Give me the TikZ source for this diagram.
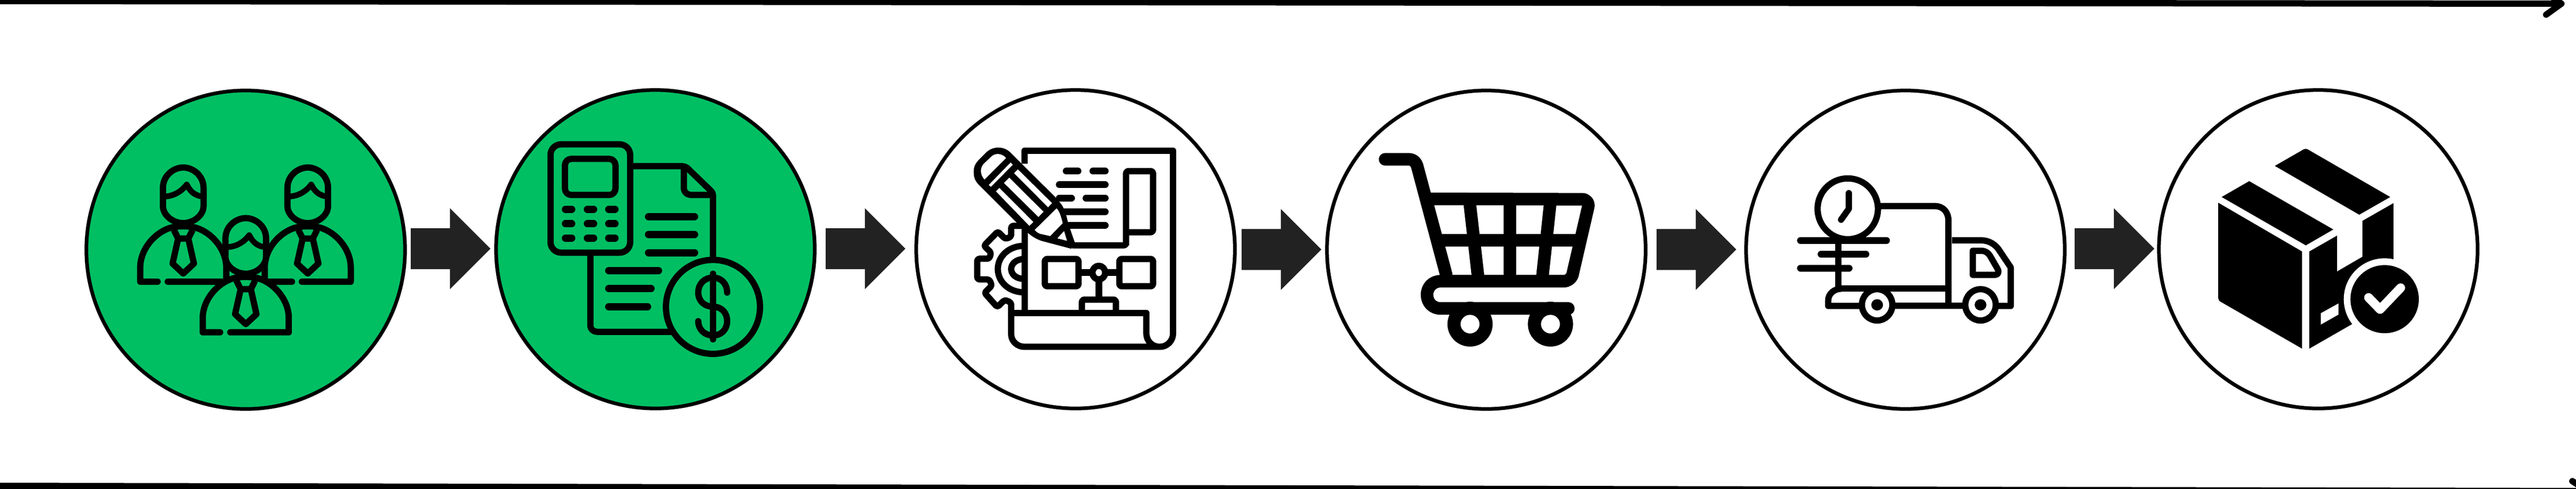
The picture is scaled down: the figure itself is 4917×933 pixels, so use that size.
\documentclass[tikz,border=0pt]{standalone}
\usetikzlibrary{shapes.arrows}
\definecolor{stepgreen}{HTML}{00BF63}
\definecolor{arrowgrey}{HTML}{222222}
\tikzset{
  stepcircle/.style={circle,draw=black,line width=.07cm,minimum size=6.08cm,inner sep=0pt,outer sep=0pt,fill=white},
  blockarrow/.style={single arrow,fill=arrowgrey,draw=none,inner sep=0pt,outer sep=0pt,
    execute at begin node={\rule{0pt}{.77cm}},
    minimum height=1.52cm,single arrow head extend=.38cm,single arrow head indent=0cm,anchor=tail},
  frameline/.style={line width=.12cm,line join=round,line cap=round},
  zoomed/.style={shift={(#1,140)},x=0.00510204cm,y=-0.00433673cm},
  ink/.style={line width=.12cm,line join=round},
  dash line/.style={line width=.14cm,line cap=round},
  small round/.style={rounded corners=.04cm},
}
\newcommand{\personfig}[3]{%
  \fill[#3] (270,918) -- (270,855) .. controls (270,775) and (325,700) .. (385,680)
     -- (477,680) .. controls (537,700) and (592,775) .. (592,855) -- (592,918) -- cycle;
  \draw[ink,line cap=round] (#1,918) -- (270,918) -- (270,855) .. controls (270,775) and (325,700) .. (385,680);
  \draw[ink,line cap=round] (#2,918) -- (592,918) -- (592,855) .. controls (592,775) and (537,700) .. (477,680);
  \draw[ink] (385,680) .. controls (410,672) and (452,672) .. (477,680);
  \draw[ink] (396,690) -- (412,728) -- (450,728) -- (466,690);
  \draw[ink] (412,728) -- (391,838) -- (431,882) -- (471,838) -- (450,728);
  \draw[ink,fill=#3] (355,505) .. controls (355,450) and (395,415) .. (431,415)
     .. controls (467,415) and (507,450) .. (507,505) -- (507,585)
     .. controls (507,625) and (470,660) .. (431,660)
     .. controls (392,660) and (355,625) .. (355,585) -- cycle;
  \draw[ink,line width=.11cm] (355,543) .. controls (395,543) and (425,520) .. (444,490)
     .. controls (455,515) and (470,540) .. (507,543);
}
\newcommand{\dashes}[1]{\foreach \a/\b/\yy in {#1} {\draw[dash line] (\a,\yy) -- (\b,\yy);}}
\begin{document}
\begin{tikzpicture}[x=0.01cm,y=-0.01cm]
\useasboundingbox (0,0) rectangle (4917,933);
% frame lines
\coordinate (topstart) at (-5,2);
\coordinate (topend) at (4889,7);
\coordinate (topbarbA) at (4860,28);
\coordinate (topbarbB) at (4860,-14);
\draw[frameline] (topstart) -- (topend);
\draw[frameline] (topbarbA) -- (topend) -- (topbarbB);
\coordinate (botstart) at (-5,928);
\coordinate (botend) at (4939,938);
\coordinate (botbarbA) at (4910,919);
\draw[frameline] (botstart) -- (botend);
\draw[frameline] (botbarbA) -- (botend);
% circles
\node[stepcircle,fill=stepgreen] (c1) at (469,477) {};
\node[stepcircle,fill=stepgreen] (c2) at (1251,476) {};
\node[stepcircle] (c3) at (2053,476) {};
\node[stepcircle] (c4) at (2837,477) {};
\node[stepcircle] (c5) at (3637,477) {};
\node[stepcircle] (c6) at (4425,476) {};
% arrows
\node[blockarrow] (a1) at (784,475) {};
\node[blockarrow] (a2) at (1576,475) {};
\node[blockarrow] (a3) at (2370,476.5) {};
\node[blockarrow] (a4) at (3162,476.5) {};
\node[blockarrow] (a5) at (3960,475) {};
% ---------- icon 1 : people
\begin{scope}[zoomed=130]
  \personfig{335}{373}{stepgreen}
  \begin{scope}[shift={(466,0)}]
    \personfig{372}{409}{stepgreen}
  \end{scope}
  \begin{scope}[shift={(234,223)}]
    \personfig{335}{373}{stepgreen}
  \end{scope}
\end{scope}
% ---------- icon 2 : calculator and invoice
\begin{scope}[zoomed=930]
  \draw[ink] (535,409) -- (725,409) .. controls (745,409) and (752,420) .. (760,430) -- (835,515)
     .. controls (845,525) and (845,535) .. (845,545) -- (845,815);
  \draw[ink] (736,415) -- (736,505) .. controls (736,525) and (750,536) .. (765,536) -- (845,536);
  \draw[ink] (386,800) -- (386,1110) .. controls (386,1128) and (398,1139) .. (412,1139) -- (695,1139);
  \draw[ink,rounded corners=.2cm] (237,313) rectangle (535,790);
  \draw[ink,rounded corners=.12cm] (291,377) rectangle (480,536);
  \dashes{293/316/599,375/398/599,455/478/599,293/316/663,375/398/663,455/478/663,293/316/726,375/398/726,455/478/726}
  \dashes{604/776/631,604/776/710,604/776/790,455/641/869,455/613/949,455/600/1028}
  \draw[ink,fill=stepgreen] (845,1029) ellipse [x radius=176,y radius=207];
  \draw[ink,line cap=round] (845,883) -- (845,1172);
  \draw[ink,line cap=round] (898,966) .. controls (898,925) and (875,900) .. (845,900)
     .. controls (815,900) and (790,925) .. (790,966) .. controls (790,1005) and (815,1028) .. (845,1028)
     .. controls (875,1028) and (898,1052) .. (898,1092) .. controls (898,1130) and (875,1155) .. (845,1155)
     .. controls (815,1155) and (790,1130) .. (790,1092);
\end{scope}
% ---------- icon 3 : plan, gear and pencil
\begin{scope}[zoomed=1720]
  \draw[ink] (462,398) -- (462,341) -- (1018,341) -- (1018,1145) .. controls (1018,1180) and (995,1205) .. (968,1205)
     -- (462,1205) .. controls (435,1205) and (412,1180) .. (412,1150) -- (412,1056) -- (918,1056) -- (918,1145)
     .. controls (918,1180) and (940,1205) .. (968,1205);
  \draw[ink] (462,680) -- (462,1056);
  \draw[ink,small round] (462,672) -- (412,672) -- (412,720) -- (390,730) -- (362,697) -- (310,760) -- (337,790)
     -- (330,817) -- (285,817) -- (285,908) -- (330,908) -- (340,935) -- (312,967) -- (360,1030) -- (388,998) -- (412,1010) -- (412,1056);
  \draw[ink] (462,760) .. controls (400,760) and (362,810) .. (362,862) .. controls (362,915) and (400,965) .. (462,965);
  \draw[ink] (462,818) .. controls (430,818) and (412,840) .. (412,862) .. controls (412,885) and (430,906) .. (462,906);
  \foreach \a/\b/\yy in {618/662/431,718/764/431,592/764/491,592/638/550,692/764/550,610/764/610,625/764/670}
    {\draw[ink,line width=.13cm,line cap=round] (\a,\yy) -- (\b,\yy);}
  \draw[ink,small round] (640,758) -- (842,758) -- (842,700) -- (943,700) -- (943,431) -- (842,431) -- (842,758);
  % pencil
  \fill (272,440) .. controls (270,410) and (280,395) .. (292,380) -- (320,347) .. controls (345,320) and (385,320) .. (410,350)
     -- (450,397) -- (577,545) -- (595,570) .. controls (610,590) and (618,620) .. (625,660) -- (650,745) -- (637,773)
     -- (525,738) .. controls (505,730) and (485,715) .. (472,700) -- (430,655) -- (290,490) .. controls (278,475) and (272,460) .. (272,440) -- cycle;
  \fill[white] (312,468) -- (393,373) .. controls (375,350) and (350,350) .. (335,370) -- (308,400) .. controls (295,420) and (295,445) .. (312,468) -- cycle;
  \fill[white] (328,492) -- (410,393) -- (418,403) -- (336,500) -- cycle;
  \fill[white] (423,440) -- (437,423) -- (565,572) -- (550,590) -- cycle;
  \fill[white] (385,483) -- (405,460) -- (533,610) -- (514,633) -- cycle;
  \fill[white] (355,520) -- (368,505) -- (495,655) -- (480,672) -- cycle;
  \fill[white] (500,690) -- (582,595) .. controls (595,610) and (600,640) .. (605,660) -- (558,717) -- (520,707) .. controls (510,702) and (505,697) .. (500,690) -- cycle;
  \fill[white] (585,727) -- (610,695) -- (621,738) -- cycle;
  % flow chart
  \draw[ink,line width=.13cm] (664,878) -- (817,878);
  \draw[ink,line width=.13cm] (740,915) -- (740,997);
  \draw[ink,small round] (538,818) rectangle (664,938);
  \draw[ink,small round] (817,818) rectangle (943,938);
  \draw[ink,fill=white] (740,878) ellipse [x radius=24,y radius=30];
  \draw[ink,small round] (677,1056) -- (677,997) -- (804,997) -- (804,1056);
\end{scope}
% ---------- icon 4 : cart
\begin{scope}[zoomed=2500]
  \draw[line width=.24cm,line join=round,line cap=round] (282,379) -- (370,379) .. controls (388,379) and (398,392) .. (402,408) -- (511,888);
  \draw[line width=.24cm,line join=round] (432,553) -- (1020,555) .. controls (1036,555) and (1046,572) .. (1042,590)
     -- (983,890) .. controls (978,905) and (965,916) .. (950,916) -- (490,916)
     .. controls (458,916) and (439,945) .. (439,975) .. controls (439,1010) and (460,1036) .. (490,1036) -- (968,1036);
  \fill (968,1036) ellipse [x radius=23.5,y radius=28];
  \draw[line width=.24cm] (597,553) -- (632,916);
  \draw[line width=.24cm] (750,553) -- (750,916);
  \draw[line width=.24cm] (902,553) -- (869,916);
  \draw[line width=.24cm] (470,736) -- (1015,736);
  \draw[line width=.25cm] (600,1105) ellipse [x radius=60,y radius=70];
  \draw[line width=.25cm] (901,1105) ellipse [x radius=60,y radius=70];
\end{scope}
% ---------- icon 5 : truck
\begin{scope}[zoomed=3300]
  \draw[ink] (565,585) -- (770,585) .. controls (805,585) and (822,615) .. (822,650) -- (822,1025);
  \draw[ink] (835,736) -- (945,736) .. controls (975,736) and (1000,755) .. (1015,785) -- (1055,855) -- (1055,1025) -- (1000,1025);
  \draw[ink] (913,782) -- (945,782) .. controls (960,782) and (970,790) .. (978,805) -- (1005,860)
     .. controls (1015,880) and (1005,888) .. (995,888) -- (913,888) -- cycle;
  \draw[ink] (410,736) -- (410,949) -- (822,949);
  \draw[ink] (490,1025) -- (372,1025) -- (372,1000) .. controls (372,970) and (395,950) .. (420,949);
  \draw[ink] (620,1025) -- (880,1025);
  \foreach \a/\b/\yy in {268/590/736,345/513/797,268/450/858}
    {\draw[ink,line width=.13cm,line cap=round] (\a,\yy) -- (\b,\yy);}
  \draw[ink,fill=white] (445,597) ellipse [x radius=113,y radius=134];
  \draw[ink,line cap=round] (449,528) -- (449,597) -- (420,645);
  \draw[ink,fill=white] (555,1020) ellipse [x radius=57,y radius=69];
  \draw[ink,fill=white] (942,1020) ellipse [x radius=57,y radius=69];
  \fill (555,1020) ellipse [x radius=22,y radius=25];
  \fill (942,1020) ellipse [x radius=22,y radius=25];
\end{scope}
% ---------- icon 6 : parcel
\begin{scope}[zoomed=4080]
  \fill (302,570) -- (616,785) -- (616,1213) -- (312,1007) .. controls (306,1003) and (302,998) .. (302,990) -- cycle;
  \fill (315,545) -- (418,475) -- (733,688) -- (630,758) -- cycle;
  \fill (514,408) -- (622,335) .. controls (627,332) and (632,332) .. (637,335) -- (946,545) -- (830,623) -- cycle;
  \fill (643,785) -- (747,715) -- (747,873) -- (842,808) -- (842,650) -- (958,572) -- (958,900) -- (803,1105) -- (643,1213) -- cycle;
  \fill[white] (686,1057) -- (752,1014) -- (752,1063) -- (686,1107) -- cycle;
  \fill[white] (925,995) ellipse [x radius=153,y radius=180];
  \fill (925,995) ellipse [x radius=128,y radius=150];
  \draw[white,line width=.17cm,line join=round,line cap=round] (865,988) -- (908,1040) -- (985,945);
\end{scope}
\end{tikzpicture}
\end{document}
